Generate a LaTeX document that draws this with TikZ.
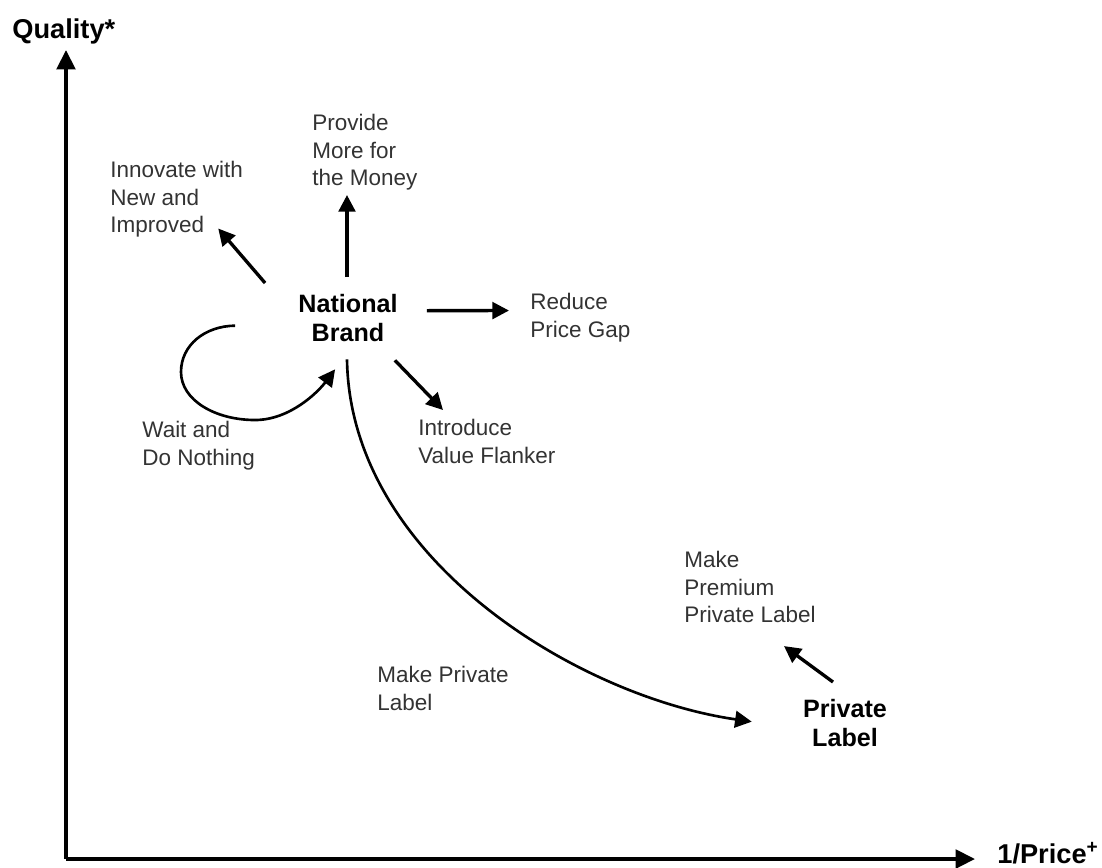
\documentclass[tikz,border=0pt]{standalone}
\usepackage{fontspec}
\setmainfont{Liberation Sans}
\usetikzlibrary{arrows.meta, positioning, calc}

\tikzset{
  txt/.style={font=\fontsize{12.8}{15.6}\selectfont, text=black!80, align=left, inner sep=0pt, anchor=north west},
  brand/.style={font=\bfseries\fontsize{14.3}{16.6}\selectfont, align=center, inner sep=0pt, anchor=north},
  axislabel/.style={font=\bfseries\fontsize{15.5}{18}\selectfont, inner sep=0pt, anchor=base west},
  axis/.style={line width=2.2pt, -{Triangle[length=11pt, width=10.5pt]}},
  arr/.style={line width=1.9pt, -{Triangle[length=9.5pt, width=9.5pt]}},
  bendarr/.style={line width=1.5pt, -{Triangle[length=9.5pt, width=9.5pt]}},
}

\begin{document}
\begin{tikzpicture}[x=0.02cm, y=-0.02cm]
    \useasboundingbox (0,0) rectangle (1102,867);

    \coordinate (O) at (66,859);
    \coordinate (ytip) at (66,50);
    \coordinate (xtip) at (975,859);
    \node[axislabel] (qual) at (12,38) {Quality*};
    \node[axislabel] (price) at (997,863) {1/Price\textsuperscript{+}};
    \draw[axis] (O) -- (ytip);
    \draw[axis] (O) -- (xtip);

    \node[brand] (nb) at (348,294) {National\\Brand};
    \node[brand] (pl) at (845,699) {Private\\Label};

    \node[txt] (innov) at (110,161) {Innovate with\\New and\\Improved};
    \node[txt] (provide) at (312,114) {Provide\\More for\\the Money};
    \node[txt] (reduce) at (530,293) {Reduce\\Price Gap};
    \node[txt] (intro) at (418,419) {Introduce\\Value Flanker};
    \node[txt] (wait) at (142,421) {Wait and\\Do Nothing};
    \node[txt] (mpl) at (377,666) {Make Private\\Label};
    \node[txt] (prem) at (684,551) {Make\\Premium\\Private Label};

    \draw[arr] ([shift={(-33,-11)}]nb.north west) -- ([shift={(-25,-9)}]innov.south east);
    \draw[arr] ([shift={(-1,-17)}]nb.north) -- ++(0,-82);
    \draw[arr] ([shift={(29,-7.5)}]nb.east) -- ([shift={(-21,-7)}]reduce.west);
    \draw[arr] ([shift={(-3,18)}]nb.south east) -- ([shift={(25,-9)}]intro.north west);
    \draw[bendarr] ([shift={(-63,7.5)}]nb.west)
        .. controls (205,326) and (181,345) .. (181,372)
        .. controls (181,400) and (215,420) .. (255,420)
        .. controls (290,420) and (318,392) .. ([shift={(37,27)}]nb.south west);
    \draw[bendarr] ([shift={(-1,17)}]nb.south)
        .. controls (350,560) and (580,697) .. ([shift={(-51,-1.5)}]pl.west);
    \draw[arr] ([shift={(-12,-17)}]pl.north) -- ([shift={(-32,23)}]prem.south east);
\end{tikzpicture}
\end{document}
